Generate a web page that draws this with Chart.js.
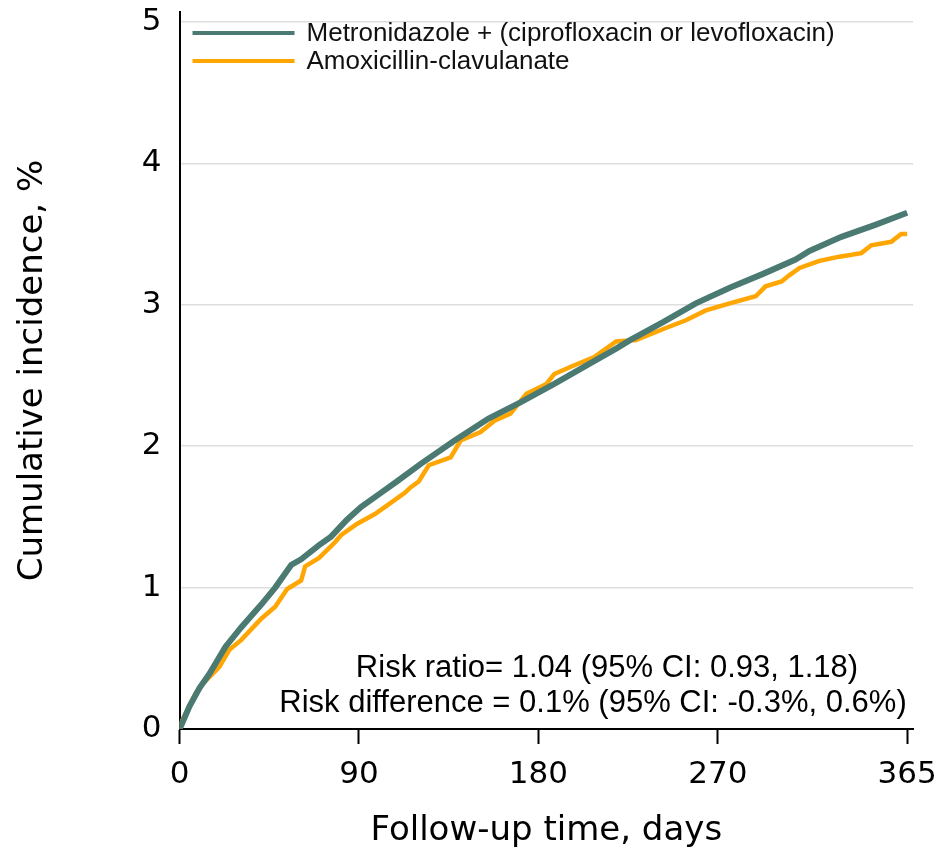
<!DOCTYPE html>
<html>
<script src="https://cdn.jsdelivr.net/npm/chart.js@4.4.1/dist/chart.umd.min.js"></script>
<style>
  body { margin: 0; background: #fff; }
  #wrap { width: 949px; height: 859px; }
</style>
<body>
<div id="wrap"><canvas id="myChart"></canvas></div>

<script>
var seriesNames = ["Metronidazole + (ciprofloxacin or levofloxacin)", "Amoxicillin-clavulanate"];

var metroDays = [0, 1, 5, 10, 15, 23, 31, 41, 48, 56, 61, 70, 76, 84, 91, 101, 109, 121, 138, 155, 171, 188, 204, 219, 226, 243, 259, 276, 293, 309, 316, 332, 349, 365];
var metroValues = [0, 0.03, 0.16, 0.29, 0.39, 0.58, 0.72, 0.88, 1.0, 1.16, 1.2, 1.3, 1.36, 1.48, 1.57, 1.67, 1.75, 1.875, 2.04, 2.195, 2.31, 2.44, 2.57, 2.69, 2.75, 2.88, 3.01, 3.12, 3.22, 3.32, 3.38, 3.48, 3.565, 3.65];

var amoxDays = [0, 1, 8, 11, 20, 25, 31, 41, 48, 54, 61, 63, 70, 78, 81, 89, 98, 104, 113, 116, 120, 125, 136, 141, 151, 158, 166, 174, 184, 188, 196, 208, 219, 229, 243, 254, 264, 276, 289, 294, 302, 306, 311, 321, 331, 342, 347, 357, 362, 365];
var amoxValues = [0, 0.05, 0.25, 0.31, 0.44, 0.56, 0.63, 0.78, 0.865, 0.99, 1.05, 1.15, 1.21, 1.32, 1.37, 1.45, 1.52, 1.58, 1.67, 1.71, 1.75, 1.865, 1.92, 2.04, 2.1, 2.18, 2.23, 2.37, 2.44, 2.51, 2.56, 2.63, 2.74, 2.75, 2.83, 2.89, 2.96, 3.01, 3.06, 3.13, 3.165, 3.21, 3.26, 3.31, 3.34, 3.365, 3.42, 3.445, 3.5, 3.5];

var xTicks = [0, 90, 180, 270, 365];
var yTicks = [0, 1, 2, 3, 4, 5];

var noteLines = ["Risk ratio= 1.04 (95% CI: 0.93, 1.18)", "Risk difference = 0.1% (95% CI: -0.3%, 0.6%)"];

var teal = "#4b7a73";
var orange = "#ffa602";

function toPoints(days, vals) {
  return days.map(function (d, i) { return {x: d, y: vals[i]}; });
}

// legend inside the plot, top left, plus the risk text lower right
var notePlugin = {
  id: "note",
  afterDraw: function (chart) {
    var ctx = chart.ctx;
    var left = chart.chartArea.left;
    ctx.save();
    ctx.font = "26px 'Liberation Sans'";
    ctx.textBaseline = "middle";
    chart.data.datasets.forEach(function (ds, i) {
      var y = 33 + i * 28;
      ctx.fillStyle = ds.borderColor;
      ctx.fillRect(left + 13, y - 2, 102, 4);
      ctx.fillStyle = "#111";
      ctx.textAlign = "left";
      ctx.fillText(ds.label, left + 127, y + 1);
    });
    ctx.fillStyle = "#000";
    ctx.font = "31px 'Liberation Sans'";
    ctx.textAlign = "center";
    ctx.textBaseline = "alphabetic";
    ctx.fillText(noteLines[0], 607, 677);
    ctx.fillText(noteLines[1], 593, 712);
    ctx.restore();
  }
};

var chart = new Chart("myChart", {
  type: "line",
  data: {
    datasets: [{
      label: seriesNames[0],
      data: toPoints(metroDays, metroValues),
      borderColor: teal,
      backgroundColor: teal,
      borderWidth: 6,
      pointRadius: 0,
      fill: false
    }, {
      label: seriesNames[1],
      data: toPoints(amoxDays, amoxValues),
      borderColor: orange,
      backgroundColor: orange,
      borderWidth: 4.5,
      pointRadius: 0,
      fill: false
    }]
  },
  options: {
    responsive: true,
    maintainAspectRatio: false,
    animation: false,
    layout: {autoPadding: false, padding: {left: 5, right: 31, top: 12, bottom: 0}},
    plugins: {
      tooltip: {enabled: false},
      legend: {display: false}
    },
    scales: {
      x: {
        type: "linear",
        min: 0,
        max: 368,
        afterBuildTicks: function (s) { s.ticks = xTicks.map(function (v) { return {value: v}; }); },
        border: {color: "#000", width: 2},
        grid: {drawOnChartArea: false, drawTicks: true, tickLength: 15, tickColor: "#000", tickWidth: 2},
        ticks: {color: "#000", padding: 12, maxRotation: 0, font: {family: "'DejaVu Sans'", size: 31}},
        title: {display: true, text: "Follow-up time, days", color: "#000",
          font: {family: "'DejaVu Sans'", size: 34}, padding: {top: 6, bottom: 7}}
      },
      y: {
        min: 0,
        max: 5.07,
        afterBuildTicks: function (s) { s.ticks = yTicks.map(function (v) { return {value: v}; }); },
        afterFit: function (s) { s.paddingTop = 0; s.paddingBottom = 0; },
        border: {color: "#000", width: 2},
        grid: {
          drawTicks: false,
          lineWidth: 1.5,
          color: function (c) { return c.tick && c.tick.value === 0 ? "rgba(0,0,0,0)" : "#dedede"; }
        },
        ticks: {color: "#000", padding: 18, font: {family: "'DejaVu Sans'", size: 31}},
        title: {display: true, text: "Cumulative incidence, %", color: "#000",
          font: {family: "'DejaVu Sans'", size: 34}, padding: {top: 8, bottom: 70}}
      }
    }
  },
  plugins: [notePlugin]
});
</script>

</body>
</html>
